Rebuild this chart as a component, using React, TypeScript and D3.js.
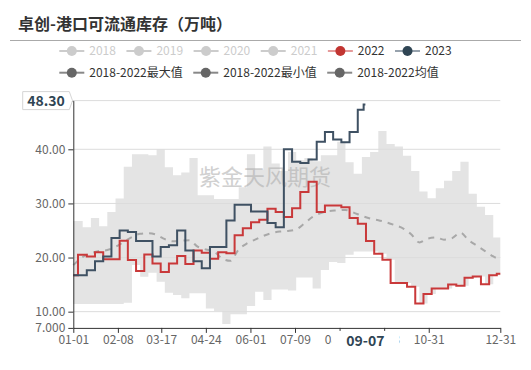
import React, { useEffect, useRef } from "react";
import * as d3 from "d3";

// weekly dates (mm-dd), shared by the 2018-2022 stats and 2022
const dates = [
  "01-01", "01-09", "01-16", "01-23", "01-30", "02-06", "02-13", "02-20", "02-27", "03-06",
  "03-13", "03-20", "03-27", "04-03", "04-10", "04-17", "04-24", "05-01", "05-08", "05-15",
  "05-22", "05-29", "06-05", "06-12", "06-19", "06-26", "07-03", "07-10", "07-17", "07-24",
  "07-31", "08-07", "08-14", "08-21", "08-28", "09-04", "09-11", "09-18", "09-25", "10-02",
  "10-09", "10-16", "10-23", "10-30", "11-06", "11-13", "11-20", "11-27", "12-04", "12-11",
  "12-18", "12-25", "12-31",
];

const max5 = [
  26.75, 25.6, 27.3, 25.8, 28.4, 30.9, 36.8, 39.1, 39.1, 38.9,
  40.0, 36.7, 35.2, 35.7, 38.4, 31.5, 31.5, 30.8, 30.8, 30.8,
  33.0, 39.1, 36.2, 40.5, 37.4, 36.0, 39.5, 38.0, 38.4, 37.8,
  38.9, 38.9, 41.4, 37.6, 35.5, 38.6, 39.5, 43.4, 41.0, 40.5,
  38.8, 36.0, 32.2, 30.95, 32.8, 34.2, 36.0, 37.7, 31.8, 29.4,
  27.85, 23.7, 23.7,
];

const min5 = [
  11.4, 11.4, 11.4, 11.4, 11.4, 11.4, 11.65, 18.6, 16.45, 17.2,
  15.55, 13.5, 13.1, 12.5, 13.4, 13.4, 10.6, 10.1, 7.7, 9.5,
  9.5, 11.05, 13.7, 12.15, 14.1, 14.1, 13.9, 16.3, 16.3, 14.3,
  17.7, 19.2, 19.0, 20.5, 21.1, 21.1, 21.1, 20.7, 19.6, 15.3,
  15.3, 14.6, 11.5, 13.25, 14.3, 14.3, 15.0, 14.8, 16.25, 16.5,
  15.05, 16.75, 17.0,
];

const avg5 = [
  18.6, 20.1, 20.8, 21.2, 21.4, 22.0, 22.9, 23.8, 24.4, 24.5,
  24.2, 23.4, 23.0, 23.1, 23.2, 22.0, 21.5, 21.1, 19.8, 19.4,
  21.5, 22.6, 23.3, 24.0, 24.5, 24.8, 24.9, 25.2, 26.3, 27.5,
  28.2, 28.6, 28.7, 28.8, 28.3, 27.7, 27.2, 26.9, 26.5, 26.0,
  25.4, 24.3, 22.8, 23.5, 23.7, 23.3, 23.6, 24.6, 23.2, 22.2,
  21.2, 20.2, 19.6,
];

const v2022 = [
  16.75, 20.5, 20.2, 21.0, 19.7, 19.7, 23.1, 19.55, 17.5, 20.55,
  18.9, 17.35, 18.9, 20.3, 18.8, 21.3, 20.9, 19.8, 21.0, 20.8,
  24.1, 25.4, 26.5, 27.0, 29.0, 28.4, 27.5, 29.1, 32.1, 34.0,
  28.4, 29.6, 29.6, 29.3, 27.3, 26.25, 23.05, 20.7, 19.6, 15.3,
  15.3, 14.6, 11.5, 13.25, 14.3, 14.3, 15.0, 14.8, 16.25, 16.5,
  15.05, 16.75, 17.0,
];

const dates2023 = [...dates.slice(0, 36), "09-07"];
const v2023 = [
  16.75, 16.75, 17.65, 19.3, 20.2, 23.6, 25.0, 24.7, 23.05, 23.05,
  20.2, 21.95, 22.25, 25.0, 21.3, 19.3, 18.0, 21.95, 21.95, 26.85,
  29.75, 29.75, 28.5, 28.5, 26.4, 25.6, 40.0, 37.7, 37.45, 38.1,
  41.4, 43.2, 41.8, 41.3, 43.2, 47.3, 48.3,
];

const xTickLabels = ["01-01", "02-08", "03-17", "04-24", "06-01", "07-09", "08-16", "09-23", "10-31", "12-31"];
const yTickValues = [7, 10, 20, 30, 40];
const yTop = 49;
const yMaxLabel = "48.30";
const pointerLabel = "09-07";

const legendRow1 = [
  { name: "2018", active: false, kind: "year" },
  { name: "2019", active: false, kind: "year" },
  { name: "2020", active: false, kind: "year" },
  { name: "2021", active: false, kind: "year" },
  { name: "2022", active: true, kind: "2022" },
  { name: "2023", active: true, kind: "2023" },
];
const legendRow2 = [
  { name: "2018-2022最大值", active: true, kind: "stat" },
  { name: "2018-2022最小值", active: true, kind: "stat" },
  { name: "2018-2022均值", active: true, kind: "stat" },
];

const FONT = "'Noto Sans CJK SC', 'Noto Sans', sans-serif";

export default function App() {
  const ref = useRef<SVGSVGElement | null>(null);

  useEffect(() => {
    const svg = d3.select(ref.current);
    svg.selectAll("*").remove();

    const parse = d3.timeParse("%m-%d");
    const x = d3.scaleTime().domain([parse("01-01") as Date, parse("12-31") as Date]).range([73.3, 500.3]);
    const y = d3.scaleLinear().domain([7, yTop]).range([327.9, 100.6]);
    const [x0, x1] = x.range();

    // title
    svg.append("text").attr("x", 18).attr("y", 30).style("font-family", FONT).style("font-size", "16px")
      .style("font-weight", "bold").attr("fill", "#333").text("卓创-港口可流通库存（万吨）");
    svg.append("line").attr("x1", 10).attr("x2", 521).attr("y1", 40.5).attr("y2", 40.5).attr("stroke", "#aaa");

    // legend
    const legend = svg.append("g");
    const drawRow = (items: typeof legendRow1, yc: number) => {
      let cx = 59.3;
      items.forEach((it) => {
        let lineCol = "#888", dotCol = "#666", textCol = "#333";
        if (!it.active) { lineCol = "#ccc"; dotCol = "#ccc"; textCol = "#ccc"; }
        else if (it.kind === "2022") { lineCol = "#e59a9a"; dotCol = "#c23531"; }
        else if (it.kind === "2023") { lineCol = "#97a2ad"; dotCol = "#2f4554"; }
        legend.append("line").attr("x1", cx).attr("x2", cx + 25).attr("y1", yc).attr("y2", yc)
          .attr("stroke", lineCol).attr("stroke-width", 2);
        legend.append("circle").attr("cx", cx + 12.5).attr("cy", yc).attr("r", 5).attr("fill", dotCol);
        const t = legend.append("text").attr("x", cx + 30).attr("y", yc).attr("dy", "0.35em")
          .style("font-family", FONT).style("font-size", "12px").attr("fill", textCol).text(it.name);
        const w = (t.node() as SVGTextElement).getComputedTextLength();
        cx += 30 + w + 10.5;
      });
    };
    drawRow(legendRow1, 51);
    drawRow(legendRow2, 72.7);

    const g = svg.append("g");

    // band between min and max
    const band = dates.map((d, i) => ({ date: parse(d) as Date, lo: min5[i], hi: max5[i] }));
    const area = d3.area<{ date: Date; lo: number; hi: number }>()
      .x((d) => x(d.date)).y0((d) => y(d.lo)).y1((d) => y(d.hi)).curve(d3.curveStepAfter);
    g.append("path").datum(band).attr("d", area).attr("fill", "#e4e4e4");

    // grid
    [10, 20, 30, 40, yTop].forEach((v) => {
      g.append("line").attr("x1", x0).attr("x2", x1).attr("y1", y(v)).attr("y2", y(v))
        .attr("stroke", "#dcdcdc").attr("stroke-width", 1);
    });

    // watermark
    g.append("text").attr("x", 265).attr("y", 185).attr("text-anchor", "middle").style("font-family", FONT)
      .style("font-size", "22px").attr("fill", "#aaa").attr("opacity", 0.55).text("紫金天风期货");

    const line = d3.line<{ date: Date; v: number }>().x((d) => x(d.date)).y((d) => y(d.v));

    // average
    g.append("path").datum(dates.map((d, i) => ({ date: parse(d) as Date, v: avg5[i] })))
      .attr("d", line.curve(d3.curveMonotoneX)).attr("fill", "none").attr("stroke", "#a8a8a8")
      .attr("stroke-width", 2).attr("stroke-dasharray", "6,6");

    // 2022
    g.append("path").datum(dates.map((d, i) => ({ date: parse(d) as Date, v: v2022[i] })))
      .attr("d", line.curve(d3.curveStep)).attr("fill", "none").attr("stroke", "#c9393a").attr("stroke-width", 2);

    // 2023
    g.append("path").datum(dates2023.map((d, i) => ({ date: parse(d) as Date, v: v2023[i] })))
      .attr("d", line.curve(d3.curveStep)).attr("fill", "none").attr("stroke", "#3f5163").attr("stroke-width", 2);

    // axes
    const xAxis = g.append("g").attr("transform", `translate(0,${y(7)})`)
      .call(d3.axisBottom(x).tickValues(xTickLabels.map((s) => parse(s) as Date))
        .tickFormat((d) => d3.timeFormat("%m-%d")(d as Date)).tickSize(5).tickSizeOuter(0));
    xAxis.select(".domain").attr("stroke", "#333");
    xAxis.selectAll(".tick line").attr("stroke", "#333");
    xAxis.selectAll("text").style("font-family", FONT).style("font-size", "12px").attr("fill", "#666");

    const yAxis = g.append("g").attr("transform", `translate(${x0},0)`)
      .call(d3.axisLeft(y).tickValues([...yTickValues, yTop])
        .tickFormat((v) => (+v === yTop ? "" : +v === 7 ? "7.000" : d3.format(".2f")(+v))).tickSize(5).tickSizeOuter(0));
    yAxis.select(".domain").attr("stroke", "#333");
    yAxis.selectAll(".tick line").attr("stroke", "#333");
    yAxis.selectAll("text").style("font-family", FONT).style("font-size", "12px").attr("fill", "#666");

    // y pointer label at the top
    const yt = y(yTop);
    g.append("path")
      .attr("d", `M22.7,${yt - 9}H69.3L72.5,${yt}L69.3,${yt + 9}H22.7Z`)
      .attr("fill", "#fff").attr("stroke", "#d6d6d6");
    g.append("text").attr("x", 46).attr("y", yt).attr("dy", "0.36em").attr("text-anchor", "middle")
      .style("font-family", FONT).style("font-size", "14px").style("font-weight", "bold")
      .attr("fill", "#2f4554").text(yMaxLabel);

    // x pointer label
    const px = x(parse(pointerLabel) as Date);
    g.append("rect").attr("x", px - 34).attr("y", y(7) + 3).attr("width", 68).attr("height", 20).attr("fill", "#fff");
    g.append("text").attr("x", px).attr("y", y(7) + 18.5).attr("text-anchor", "middle")
      .style("font-family", FONT).style("font-size", "14px").style("font-weight", "bold")
      .attr("fill", "#2f4554").text(pointerLabel);
  }, []);

  return (
    <svg ref={ref} width={531} height={370}
      style={{ position: "absolute", left: 0, top: 0, background: "#fff" }} />
  );
}
